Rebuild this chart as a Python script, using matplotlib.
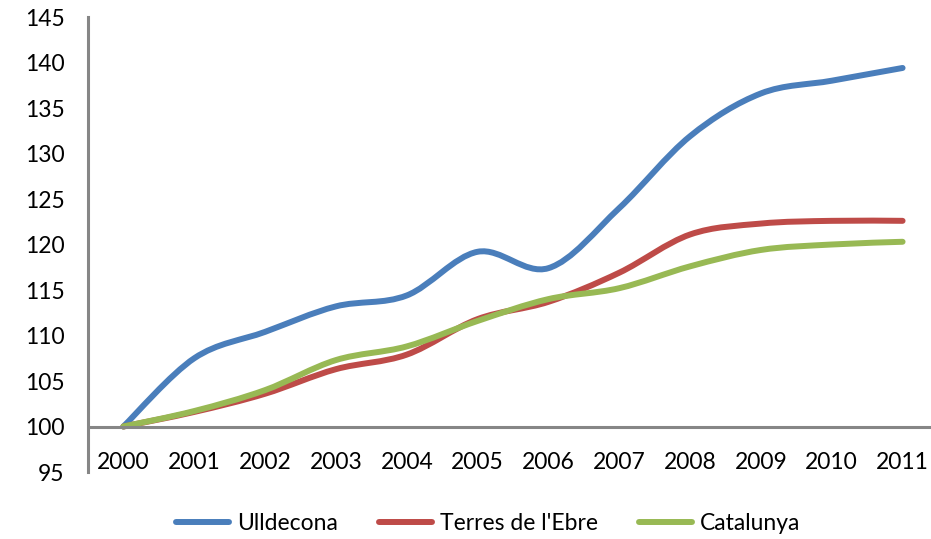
import matplotlib.pyplot as plt
import numpy as np
from matplotlib.path import Path
from matplotlib.patches import PathPatch
from matplotlib.lines import Line2D

years = ["2000", "2001", "2002", "2003", "2004", "2005",
         "2006", "2007", "2008", "2009", "2010", "2011"]
ulldecona = [100, 107.5, 110.4, 113.2, 114.4, 119.2, 117.4, 124.0, 131.9, 136.6, 138.0, 139.4]
terres_ebre = [100, 101.6, 103.6, 106.3, 107.9, 111.8, 113.7, 116.9, 121.1, 122.3, 122.6, 122.6]
catalunya = [100, 101.7, 104.0, 107.3, 108.8, 111.6, 114.0, 115.2, 117.6, 119.4, 120.0, 120.3]

series = [("Ulldecona", ulldecona, "#4A7EBB"),
          ("Terres de l'Ebre", terres_ebre, "#BE4B48"),
          ("Catalunya", catalunya, "#98B954")]

plt.rcParams["font.family"] = ["Lato", "DejaVu Sans"]
fs = 16.5


def smooth_path(x, y):
    # excel-style smoothed line: cubic bezier with catmull-rom control points
    pts = np.column_stack([x, y]).astype(float)
    n = len(pts)
    verts = [pts[0]]
    codes = [Path.MOVETO]
    for i in range(n - 1):
        p0 = pts[max(i - 1, 0)]
        p1 = pts[i]
        p2 = pts[i + 1]
        p3 = pts[min(i + 2, n - 1)]
        c1 = p1 + (p2 - p0) / 6.0
        c2 = p2 - (p3 - p1) / 6.0
        verts += [c1, c2, p2]
        codes += [Path.CURVE4] * 3
    return Path(verts, codes)


fig = plt.figure(figsize=(9.31, 5.39), dpi=100)
ax = fig.add_axes([88 / 931, 1 - 472 / 539, 850 / 931, 455 / 539])

x = np.arange(len(years))
for name, vals, col in series:
    patch = PathPatch(smooth_path(x, vals), fill=False, edgecolor=col,
                      linewidth=4.3, capstyle="round", joinstyle="round")
    ax.add_patch(patch)

ax.set_xlim(-0.5, 11.5)
ax.set_ylim(95, 145)
ax.set_yticks(range(95, 146, 5))
ax.set_xticks(x)
ax.set_xticklabels(years)

for s in ["top", "right"]:
    ax.spines[s].set_visible(False)
ax.spines["bottom"].set_position(("data", 100))
ax.spines["bottom"].set_color("#868686")
ax.spines["left"].set_color("#868686")
ax.spines["bottom"].set_linewidth(2.2)
ax.spines["left"].set_linewidth(2.2)
ax.spines["bottom"].set_capstyle("butt")
ax.tick_params(axis="both", length=0, labelsize=fs, colors="black")
ax.tick_params(axis="y", pad=17)
ax.tick_params(axis="x", pad=18)

handles = [Line2D([], [], color=col, linewidth=4.3, solid_capstyle="round")
           for _, _, col in series]
fig.legend(handles, [s[0] for s in series], loc="center",
           bbox_to_anchor=(488 / 931, 1 - 524 / 539), ncol=3, frameon=False,
           fontsize=fs, handlelength=2.3, handletextpad=0.35, columnspacing=1.8)

fig.savefig("out.png", dpi=100)
